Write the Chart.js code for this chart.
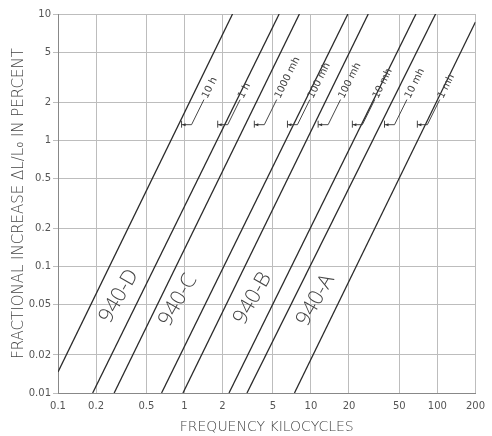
<!DOCTYPE html>
<html>
<head>
<meta charset="utf-8">
<script src="https://cdn.jsdelivr.net/npm/chart.js@4"></script>
<style>
  html, body { margin: 0; padding: 0; background: #fff; }
  #wrap { width: 492px; height: 436px; }
</style>
</head>
<body>
<div id="wrap"><canvas id="chart"></canvas></div>
<script>
// frequency in kc, fractional increase in percent
const curveNames = ['10 h', '1 h', '1000 mh', '100 mh', '100 mh', '10 mh', '10 mh', '1 mh'];
const startFreq = [0.1, 0.188, 0.278, 0.659, 0.973, 2.25, 3.12, 7.41];
const startPct = [0.0147, 0.01, 0.01, 0.01, 0.01, 0.01, 0.01, 0.01];
const endFreq = [2.4, 5.61, 8.11, 19.6, 28.4, 67.7, 96.8, 200];
const endPct = [10, 10, 10, 10, 10, 10, 10, 8.65];
const models = ['940-D', '940-C', '940-B', '940-A'];
const xTicks = [0.1, 0.2, 0.5, 1, 2, 5, 10, 20, 50, 100, 200];
const yTicks = [0.01, 0.02, 0.05, 0.1, 0.2, 0.5, 1, 2, 5, 10];

const INK = '#2a2a2a';
const TEXT = '#555';
const FONT = '"DejaVu Sans", sans-serif';

// where the model names sit (data coords) and the bracket offsets (px)
const modelPos = [[0.304, 0.0585], [0.89, 0.0544], [3.47, 0.0562], [10.9, 0.0544]];
const bracketPct = 1.33;
const bracketShift = [3, -7, 9, -6, 4, -9, 4, -8];

const datasets = curveNames.map((name, i) => ({
    label: name,
    data: [{ x: startFreq[i], y: startPct[i] }, { x: endFreq[i], y: endPct[i] }],
    showLine: true,
    borderColor: INK,
    borderWidth: 1.3,
    pointRadius: 0,
    fill: false
}));

// x of curve i at a given percent, log-log interpolation
const freqAt = (i, pct) => {
    const t = (Math.log10(pct) - Math.log10(startPct[i])) / (Math.log10(endPct[i]) - Math.log10(startPct[i]));
    return Math.pow(10, Math.log10(startFreq[i]) + t * (Math.log10(endFreq[i]) - Math.log10(startFreq[i])));
};

const labelsPlugin = {
    id: 'curveLabels',
    afterDatasetsDraw(chart) {
        const { ctx, scales: { x, y } } = chart;
        const ang = 63.7 * Math.PI / 180;
        const dx = Math.cos(ang), dy = -Math.sin(ang);
        ctx.save();
        ctx.strokeStyle = '#333';
        ctx.fillStyle = '#333';
        ctx.lineWidth = 0.9;
        curveNames.forEach((name, i) => {
            const py = y.getPixelForValue(bracketPct);
            const tx = x.getPixelForValue(freqAt(i, bracketPct)) + bracketShift[i];
            // arrow + tick
            ctx.beginPath();
            ctx.moveTo(tx, py - 4); ctx.lineTo(tx, py + 3);
            ctx.moveTo(tx, py); ctx.lineTo(tx + 10, py);
            const lx = tx + 10 + dx * 28, ly = py + dy * 28;
            ctx.lineTo(lx, ly);
            ctx.stroke();
            ctx.beginPath();
            ctx.moveTo(tx + 0.5, py); ctx.lineTo(tx + 4, py - 1.5); ctx.lineTo(tx + 4, py + 1.5);
            ctx.closePath(); ctx.fill();
            ctx.save();
            ctx.translate(lx + dx * 2, ly + dy * 2);
            ctx.rotate(-ang);
            ctx.font = '10px ' + FONT;
            ctx.fillStyle = '#444';
            ctx.textAlign = 'left';
            ctx.textBaseline = 'middle';
            ctx.fillText(name, 0, 0);
            ctx.restore();
        });
        models.forEach((m, i) => {
            ctx.save();
            ctx.translate(x.getPixelForValue(modelPos[i][0]), y.getPixelForValue(modelPos[i][1]));
            ctx.rotate(-60 * Math.PI / 180);
            ctx.font = '300 21px "Open Sans", ' + FONT;
            ctx.fillStyle = '#444';
            ctx.textAlign = 'center';
            ctx.textBaseline = 'middle';
            ctx.fillText(m, 0, 0);
            ctx.restore();
        });
        ctx.restore();
    }
};

const fmt = v => String(v);

new Chart(document.getElementById('chart'), {
    type: 'scatter',
    data: { datasets },
    plugins: [labelsPlugin],
    options: {
        responsive: true,
        maintainAspectRatio: false,
        animation: false,
        layout: { padding: { top: 14, right: 10, left: 0, bottom: 0 } },
        plugins: { legend: { display: false }, tooltip: { enabled: false } },
        scales: {
            x: {
                type: 'logarithmic',
                min: 0.1, max: 200,
                afterBuildTicks: s => { s.ticks = xTicks.map(v => ({ value: v })); },
                afterFit: s => { s.height = 43; },
                grid: { color: '#bdbdbd', lineWidth: 1, drawTicks: false },
                border: { color: '#888', width: 1 },
                ticks: { color: TEXT, font: { family: FONT, size: 10 }, padding: 7, maxRotation: 0, autoSkip: false, callback: fmt },
                title: { display: true, text: 'FREQUENCY KILOCYCLES', color: '#444', font: { family: FONT, size: 14, weight: 200 }, padding: { top: 0, bottom: 0 } }
            },
            y: {
                type: 'logarithmic',
                min: 0.01, max: 10,
                afterBuildTicks: s => { s.ticks = yTicks.map(v => ({ value: v })); },
                afterFit: s => { s.width = 58; },
                grid: { color: '#bdbdbd', lineWidth: 1, tickLength: 5 },
                border: { color: '#888', width: 1 },
                ticks: { color: TEXT, font: { family: FONT, size: 10 }, padding: 2, autoSkip: false, callback: fmt },
                title: { display: true, text: 'FRACTIONAL INCREASE \u0394L/L\u2080 IN PERCENT', color: '#444', font: { family: FONT, size: 15, weight: 200 }, padding: { top: 10, bottom: 0 } }
            }
        }
    }
});
</script>
</body>
</html>
